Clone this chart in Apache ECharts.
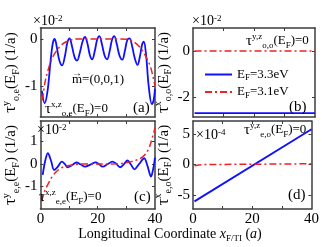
<!DOCTYPE html>
<html><head><meta charset="utf-8">
<script src="https://cdn.jsdelivr.net/npm/echarts@6/dist/echarts.min.js"></script>
<style>html,body{margin:0;padding:0;background:#fff}#c{width:322px;height:247px}</style>
</head><body><div id="c"></div>
<script>
// ---- data ----
const xTicks = [10, 20, 30];
const xLabels = [0, 20, 40];

const aBlueX = [0.5,1.5,2.5,3.5,4.3,5.0,5.8,6.6,7.6,8.6,9.4,10.2,11.0,11.9,12.8,13.8,14.8,15.6,16.5,17.3,18.1,19.0,19.8,20.6,21.5,22.4,23.3,24.2,25.0,25.8,26.7,27.6,28.6,29.5,30.3,31.1,32.0,32.9,33.9,34.8,35.5,36.1,36.9,37.8,38.9,39.5,40];
const aBlueY = [-1.1,-1.36,-1.1,-0.5,-0.1,0.0,-0.2,-0.45,-0.56,-0.35,-0.08,0.01,-0.15,-0.38,-0.46,-0.28,-0.04,0.04,-0.12,-0.35,-0.43,-0.25,-0.02,0.06,-0.12,-0.35,-0.43,-0.25,-0.02,0.06,-0.12,-0.35,-0.44,-0.25,-0.03,0.01,-0.15,-0.4,-0.55,-0.35,-0.12,-0.06,-0.35,-1.0,-1.38,-1.3,-1.05];
const aRedX = [0.7,1.5,2.5,3.5,4.5,6,7.5,9,11,13,28,30,31.5,33,34.5,35.5,36.5,37.5,38.5,39.3,40];
const aRedY = [-1.3,-0.95,-0.7,-0.5,-0.36,-0.22,-0.12,-0.06,-0.02,0,0,-0.01,-0.03,-0.08,-0.16,-0.24,-0.34,-0.46,-0.6,-0.8,-1.0];

const bBlueX = [0.5, 40];
const bBlueY = [-2.7, -2.7];
const bRedX = [0.5, 40];
const bRedY = [0, 0];

const cBlueX = [0.8,1.7,2.6,3.7,4.8,6.1,7.5,8.5,9.5,11.0,12.6,14.1,15.6,17.5,19.3,20.5,21.7,23.4,25.1,26.5,27.8,29.1,30.4,31.6,32.8,34.5,36.2,37.4,38.6,39.4,40];
const cBlueY = [-0.49,0.15,0.47,0.15,-0.27,-0.12,0.1,0.0,-0.15,-0.06,0.06,-0.03,-0.12,-0.03,0.07,-0.02,-0.12,-0.02,0.1,0.0,-0.15,-0.02,0.15,-0.03,-0.24,0.0,0.25,-0.1,-0.56,-0.2,0.28];
const cRedX = [0.4,1.5,2.8,4.2,5.6,7,8.4,10,11.7,14,27,29.5,31.7,33.5,35,36.3,37.3,38.2,39,39.6,40];
const cRedY = [-1.67,-1.2,-0.86,-0.55,-0.34,-0.2,-0.12,-0.07,-0.04,-0.01,0.0,0.04,0.1,0.17,0.25,0.38,0.55,0.8,1.14,1.4,1.58];

const dBlueX = [0.5, 40];
const dBlueY = [-6.05, 5.75];
const dRedX = [0.5, 2, 4, 40];
const dRedY = [-0.22, -0.1, -0.03, 0.1];

const aYTicks = [-1, 0];
const bYTicks = [-2, 0];
const cYTicks = [-1, 0, 1];
const dYTicks = [-5, 0, 5];
const aRange = [-1.65, 0.23];
const bRange = [-2.87, 1.0];
const cRange = [-2.0, 1.9];
const dRange = [-7.3, 7.1];

const legendNames = ['E33', 'E31'];
const legendLabels = {E33: '{n|E}{s|F}{n|=3.3eV}', E31: '{n|E}{s|F}{n|=3.1eV}'};

// ---- styling ----
const serif = '"Liberation Serif","Times New Roman",serif';
const frame = '#3c3c3c';
const BLUE = '#1010ff';
const RED = '#ee2222';
function F(size, style) { return (style ? style + ' ' : '') + size + 'px ' + serif; }

const grids = [
  {left: 35, top: 28, width: 120, height: 89},
  {left: 193, top: 28, width: 122, height: 89},
  {left: 35, top: 121, width: 120, height: 88},
  {left: 193, top: 121, width: 122, height: 88}
];
const ranges = [aRange, bRange, cRange, dRange];
const yticks = [aYTicks, bYTicks, cYTicks, dYTicks];
const ynames = [
  '{t|τ}{sp|y}{sb|o,e}{n|(E}{sb|F}{n|) (1/a)}',
  '{t|τ}{sp|x}{sb|o,o}{n|(E}{sb|F}{n|) (1/a)}',
  '{t|τ}{sp|y}{sb|e,e}{n|(E}{sb|F}{n|) (1/a)}',
  '{t|τ}{sp|x}{sb|e,o}{n|(E}{sb|F}{n|) (1/a)}'
];
const nameRich = {
  t: {fontSize: 17, fontFamily: serif, lineHeight: 20, color: '#000'},
  n: {fontSize: 15, fontFamily: serif, lineHeight: 20, color: '#000'},
  sp: {fontSize: 10, fontFamily: serif, verticalAlign: 'top', lineHeight: 10, color: '#000'},
  sb: {fontSize: 10, fontFamily: serif, verticalAlign: 'bottom', lineHeight: 10, color: '#000'}
};

const xAxes = [], yAxes = [];
grids.forEach((g, i) => {
  const bottomRow = i >= 2;
  const axisLine = {show: true, onZero: false, lineStyle: {color: frame, width: 1.5}};
  const tick = {show: true, inside: true, length: 3, lineStyle: {color: frame, width: 1}};
  xAxes.push({gridIndex: i, type: 'value', min: 0, max: 40, position: 'bottom',
    axisLine: axisLine, splitLine: {show: false},
    axisTick: Object.assign({customValues: xTicks}, tick),
    axisLabel: bottomRow ? {show: true, customValues: xLabels, margin: 3, color: '#000', fontFamily: serif, fontSize: 15} : {show: false}});
  xAxes.push({gridIndex: i, type: 'value', min: 0, max: 40, position: 'top',
    axisLine: axisLine, splitLine: {show: false},
    axisTick: Object.assign({customValues: xTicks}, tick), axisLabel: {show: false}});
  yAxes.push({gridIndex: i, type: 'value', min: ranges[i][0], max: ranges[i][1], position: 'left',
    axisLine: axisLine, splitLine: {show: false},
    axisTick: Object.assign({customValues: yticks[i]}, tick),
    axisLabel: {show: true, customValues: yticks[i], margin: 3, color: '#000', fontFamily: serif, fontSize: 15},
    name: ynames[i], nameLocation: 'middle', nameRotate: 90, nameGap: 13,
    nameTextStyle: {rich: nameRich, fontFamily: serif, fontSize: 15, color: '#000'}});
  yAxes.push({gridIndex: i, type: 'value', min: ranges[i][0], max: ranges[i][1], position: 'right',
    axisLine: axisLine, splitLine: {show: false},
    axisTick: Object.assign({customValues: yticks[i]}, tick), axisLabel: {show: false}});
});

function mk(name, xs, ys, gi, color, dashed, smooth) {
  return {
    type: 'line', name: name, xAxisIndex: gi * 2, yAxisIndex: gi * 2,
    data: xs.map((x, k) => [x, ys[k]]),
    symbol: 'none', showSymbol: false, smooth: smooth ? 0.35 : false,
    lineStyle: {color: color, width: dashed ? 1.5 : 1.8, type: dashed ? [7, 3, 2, 3] : 'solid'},
    itemStyle: {color: color}, silent: true, animation: false, z: dashed ? 3 : 2
  };
}

const series = [
  mk('E33', aBlueX, aBlueY, 0, BLUE, false, true),
  mk('E31', aRedX, aRedY, 0, RED, true, true),
  mk('E33', bBlueX, bBlueY, 1, BLUE, false, false),
  mk('E31', bRedX, bRedY, 1, RED, true, false),
  mk('E33', cBlueX, cBlueY, 2, BLUE, false, true),
  mk('E31', cRedX, cRedY, 2, RED, true, true),
  mk('E33', dBlueX, dBlueY, 3, BLUE, false, false),
  mk('E31', dRedX, dRedY, 3, RED, true, false)
];

const rich = {
  n: {font: F(13), lineHeight: 18},
  x: {font: F(14), lineHeight: 18},
  big: {font: F(15), lineHeight: 18},
  i: {font: F(14, 'italic'), lineHeight: 18},
  sp: {font: F(9), verticalAlign: 'top', lineHeight: 9},
  sb: {font: F(9), verticalAlign: 'bottom', lineHeight: 9}
};
function T(text, x, y, size, align) {
  return {type: 'text', x: x, y: y, z: 100, silent: true,
    style: {text: text, rich: rich, font: F(size || 13), fill: '#000', align: align || 'left', verticalAlign: 'middle'}};
}

const graphics = [
  T('×10{sp|-2}', 33, 21, 14),
  T('×10{sp|-2}', 192, 21, 14),
  T('×10{sp|-2}', 37, 130, 14),
  T('×10{sp|-4}', 196, 135, 14),
  T('{big|τ}{sp|x,z}{sb|o,e}(E{sb|F})=0', 45, 109),
  T('→', 72, 73, 10),
  T('m=(0,0,1)', 72, 80),
  T('(a)', 133, 108, 15),
  T('{big|τ}{sp|y,z}{sb|o,o}(E{sb|F})=0', 246, 41),
  T('(b)', 289, 107, 15),
  T('{big|τ}{sp|x,z}{sb|e,e}(E{sb|F})=0', 39, 197),
  T('(c)', 134, 197, 15),
  T('{big|τ}{sp|y,z}{sb|e,o}(E{sb|F})=0', 244, 130),
  T('(d)', 288, 195, 15),
  T('Longitudinal Coordinate {i|x}{sb|F/TI} ({i|a})', 170, 234, 14, 'center')
];

const chart = echarts.init(document.getElementById('c'), null, {renderer: 'canvas'});
chart.setOption({
  animation: false,
  backgroundColor: '#fff',
  grid: grids,
  xAxis: xAxes,
  yAxis: yAxes,
  series: series,
  legend: {
    orient: 'vertical', left: 199, top: 63, itemWidth: 27, itemHeight: 12, itemGap: 3,
    selectedMode: false, data: legendNames,
    itemStyle: {opacity: 0},
    formatter: function (nm) { return legendLabels[nm]; },
    textStyle: {fontFamily: serif, fontSize: 13, color: '#000',
      rich: {n: {fontSize: 13, fontFamily: serif, lineHeight: 16, color: '#000'},
             s: {fontSize: 9, fontFamily: serif, verticalAlign: 'bottom', lineHeight: 9, color: '#000'}}}
  },
  graphic: graphics
});
</script></body></html>
